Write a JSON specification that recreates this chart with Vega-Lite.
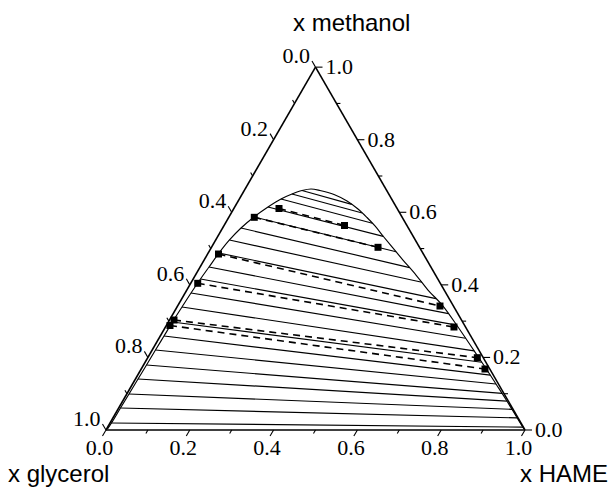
{
  "$schema": "https://vega.github.io/schema/vega-lite/v6.json",
  "width": 611,
  "height": 490,
  "autosize": {"type": "none"},
  "padding": 0,
  "background": "white",
  "config": {"view": {"stroke": null}},
  "datasets": {
    "tri": [
      {"X": 0, "Y": 0, "X2": 1, "Y2": 0},
      {"X": 1, "Y": 0, "X2": 0.5, "Y2": 0.866},
      {"X": 0.5, "Y": 0.866, "X2": 0, "Y2": 0}
    ],
    "tie": [
      {"X": 0.0119, "Y": 0.0167, "X2": 0.9948, "Y2": 0.0069},
      {"X": 0.0346, "Y": 0.0525, "X2": 0.9811, "Y2": 0.0289},
      {"X": 0.0549, "Y": 0.0859, "X2": 0.9690, "Y2": 0.0494},
      {"X": 0.0764, "Y": 0.1217, "X2": 0.9568, "Y2": 0.0690},
      {"X": 0.0967, "Y": 0.1551, "X2": 0.9453, "Y2": 0.0874},
      {"X": 0.1181, "Y": 0.1909, "X2": 0.9308, "Y2": 0.1098},
      {"X": 0.1384, "Y": 0.2243, "X2": 0.9172, "Y2": 0.1308},
      {"X": 0.1587, "Y": 0.2578, "X2": 0.8969, "Y2": 0.1618},
      {"X": 0.1814, "Y": 0.2936, "X2": 0.8788, "Y2": 0.1890},
      {"X": 0.2029, "Y": 0.3270, "X2": 0.8582, "Y2": 0.2189},
      {"X": 0.2255, "Y": 0.3604, "X2": 0.8368, "Y2": 0.2504},
      {"X": 0.2458, "Y": 0.3890, "X2": 0.8174, "Y2": 0.2776},
      {"X": 0.2697, "Y": 0.4224, "X2": 0.7876, "Y2": 0.3136},
      {"X": 0.2947, "Y": 0.4535, "X2": 0.7539, "Y2": 0.3527},
      {"X": 0.3222, "Y": 0.4821, "X2": 0.7246, "Y2": 0.3876},
      {"X": 0.3532, "Y": 0.5084, "X2": 0.6924, "Y2": 0.4253},
      {"X": 0.3866, "Y": 0.5322, "X2": 0.6618, "Y2": 0.4621},
      {"X": 0.4177, "Y": 0.5513, "X2": 0.6358, "Y2": 0.4933},
      {"X": 0.4439, "Y": 0.5632, "X2": 0.6115, "Y2": 0.5179},
      {"X": 0.4678, "Y": 0.5716, "X2": 0.5864, "Y2": 0.5384}
    ],
    "bin": [
      {"o": 1, "X": 0.0036, "Y": 0.0024},
      {"o": 2, "X": 0.0131, "Y": 0.0167},
      {"o": 3, "X": 0.0346, "Y": 0.0525},
      {"o": 4, "X": 0.0549, "Y": 0.0859},
      {"o": 5, "X": 0.0764, "Y": 0.1217},
      {"o": 6, "X": 0.0967, "Y": 0.1551},
      {"o": 7, "X": 0.1181, "Y": 0.1909},
      {"o": 8, "X": 0.1384, "Y": 0.2243},
      {"o": 9, "X": 0.1587, "Y": 0.2578},
      {"o": 10, "X": 0.1814, "Y": 0.2936},
      {"o": 11, "X": 0.2029, "Y": 0.3270},
      {"o": 12, "X": 0.2255, "Y": 0.3604},
      {"o": 13, "X": 0.2458, "Y": 0.3890},
      {"o": 14, "X": 0.2697, "Y": 0.4224},
      {"o": 15, "X": 0.2947, "Y": 0.4535},
      {"o": 16, "X": 0.3222, "Y": 0.4821},
      {"o": 17, "X": 0.3532, "Y": 0.5084},
      {"o": 18, "X": 0.3866, "Y": 0.5322},
      {"o": 19, "X": 0.4177, "Y": 0.5513},
      {"o": 20, "X": 0.4439, "Y": 0.5632},
      {"o": 21, "X": 0.4678, "Y": 0.5716},
      {"o": 22, "X": 0.4893, "Y": 0.5752},
      {"o": 23, "X": 0.5107, "Y": 0.5716},
      {"o": 24, "X": 0.5442, "Y": 0.5621},
      {"o": 25, "X": 0.5752, "Y": 0.5465},
      {"o": 26, "X": 0.6014, "Y": 0.5274},
      {"o": 27, "X": 0.6229, "Y": 0.5072},
      {"o": 28, "X": 0.6420, "Y": 0.4869},
      {"o": 29, "X": 0.6611, "Y": 0.4630},
      {"o": 30, "X": 0.6826, "Y": 0.4368},
      {"o": 31, "X": 0.7088, "Y": 0.4057},
      {"o": 32, "X": 0.7399, "Y": 0.3699},
      {"o": 33, "X": 0.7685, "Y": 0.3341},
      {"o": 34, "X": 0.8043, "Y": 0.2959},
      {"o": 35, "X": 0.8401, "Y": 0.2458},
      {"o": 36, "X": 0.8902, "Y": 0.1718},
      {"o": 37, "X": 0.9093, "Y": 0.1432},
      {"o": 38, "X": 0.9308, "Y": 0.1098},
      {"o": 39, "X": 0.9523, "Y": 0.0764},
      {"o": 40, "X": 0.9714, "Y": 0.0453},
      {"o": 41, "X": 0.9857, "Y": 0.0215},
      {"o": 42, "X": 0.9976, "Y": 0.0024}
    ],
    "exp": [
      {"X": 0.4129, "Y": 0.5286, "X2": 0.5692, "Y2": 0.4881},
      {"X": 0.3539, "Y": 0.5076, "X2": 0.6492, "Y2": 0.4360},
      {"X": 0.2685, "Y": 0.4200, "X2": 0.7971, "Y2": 0.2959},
      {"X": 0.2189, "Y": 0.3501, "X2": 0.8305, "Y2": 0.2458},
      {"X": 0.1623, "Y": 0.2625, "X2": 0.8862, "Y2": 0.1726},
      {"X": 0.1527, "Y": 0.2494, "X2": 0.9045, "Y2": 0.1456}
    ],
    "pts": [
      {"X": 0.4129, "Y": 0.5286}, {"X": 0.5692, "Y": 0.4881},
      {"X": 0.3539, "Y": 0.5076}, {"X": 0.6492, "Y": 0.4360},
      {"X": 0.2685, "Y": 0.4200}, {"X": 0.7971, "Y": 0.2959},
      {"X": 0.2189, "Y": 0.3501}, {"X": 0.8305, "Y": 0.2458},
      {"X": 0.1623, "Y": 0.2625}, {"X": 0.8862, "Y": 0.1726},
      {"X": 0.1527, "Y": 0.2494}, {"X": 0.9045, "Y": 0.1456}
    ],
    "ticks": [
      {"X": 0.0, "Y": 0, "X2": -0.0084, "Y2": -0.0145},
      {"X": 0.1, "Y": 0, "X2": 0.0952, "Y2": -0.0083},
      {"X": 0.2, "Y": 0, "X2": 0.1916, "Y2": -0.0145},
      {"X": 0.3, "Y": 0, "X2": 0.2952, "Y2": -0.0083},
      {"X": 0.4, "Y": 0, "X2": 0.3916, "Y2": -0.0145},
      {"X": 0.5, "Y": 0, "X2": 0.4952, "Y2": -0.0083},
      {"X": 0.6, "Y": 0, "X2": 0.5916, "Y2": -0.0145},
      {"X": 0.7, "Y": 0, "X2": 0.6952, "Y2": -0.0083},
      {"X": 0.8, "Y": 0, "X2": 0.7916, "Y2": -0.0145},
      {"X": 0.9, "Y": 0, "X2": 0.8952, "Y2": -0.0083},
      {"X": 1.0, "Y": 0, "X2": 0.9916, "Y2": -0.0145},
      {"X": 0.5, "Y": 0.866, "X2": 0.4916, "Y2": 0.8805},
      {"X": 0.45, "Y": 0.7794, "X2": 0.4452, "Y2": 0.7877},
      {"X": 0.4, "Y": 0.6928, "X2": 0.3916, "Y2": 0.7073},
      {"X": 0.35, "Y": 0.6062, "X2": 0.3452, "Y2": 0.6145},
      {"X": 0.3, "Y": 0.5196, "X2": 0.2916, "Y2": 0.5341},
      {"X": 0.25, "Y": 0.4330, "X2": 0.2452, "Y2": 0.4413},
      {"X": 0.2, "Y": 0.3464, "X2": 0.1916, "Y2": 0.3609},
      {"X": 0.15, "Y": 0.2598, "X2": 0.1452, "Y2": 0.2681},
      {"X": 0.1, "Y": 0.1732, "X2": 0.0916, "Y2": 0.1877},
      {"X": 0.05, "Y": 0.0866, "X2": 0.0452, "Y2": 0.0949},
      {"X": 0.0, "Y": 0.0, "X2": -0.0084, "Y2": 0.0145},
      {"X": 1.0, "Y": 0, "X2": 1.0167, "Y2": 0},
      {"X": 0.95, "Y": 0.0866, "X2": 0.9595, "Y2": 0.0866},
      {"X": 0.9, "Y": 0.1732, "X2": 0.9167, "Y2": 0.1732},
      {"X": 0.85, "Y": 0.2598, "X2": 0.8595, "Y2": 0.2598},
      {"X": 0.8, "Y": 0.3464, "X2": 0.8167, "Y2": 0.3464},
      {"X": 0.75, "Y": 0.4330, "X2": 0.7595, "Y2": 0.4330},
      {"X": 0.7, "Y": 0.5196, "X2": 0.7167, "Y2": 0.5196},
      {"X": 0.65, "Y": 0.6062, "X2": 0.6595, "Y2": 0.6062},
      {"X": 0.6, "Y": 0.6928, "X2": 0.6167, "Y2": 0.6928},
      {"X": 0.55, "Y": 0.7794, "X2": 0.5595, "Y2": 0.7794},
      {"X": 0.5, "Y": 0.866, "X2": 0.5167, "Y2": 0.866}
    ],
    "lblB": [
      {"X": -0.0084, "Y": -0.0145, "t": "0.0"},
      {"X": 0.1916, "Y": -0.0145, "t": "0.2"},
      {"X": 0.3916, "Y": -0.0145, "t": "0.4"},
      {"X": 0.5916, "Y": -0.0145, "t": "0.6"},
      {"X": 0.7916, "Y": -0.0145, "t": "0.8"},
      {"X": 0.9916, "Y": -0.0145, "t": "1.0"}
    ],
    "lblL": [
      {"X": 0.4916, "Y": 0.8805, "t": "0.0"},
      {"X": 0.3916, "Y": 0.7073, "t": "0.2"},
      {"X": 0.2916, "Y": 0.5341, "t": "0.4"},
      {"X": 0.1916, "Y": 0.3609, "t": "0.6"},
      {"X": 0.0916, "Y": 0.1877, "t": "0.8"},
      {"X": -0.0084, "Y": 0.0145, "t": "1.0"}
    ],
    "lblR": [
      {"X": 1.0167, "Y": 0, "t": "0.0"},
      {"X": 0.9167, "Y": 0.1732, "t": "0.2"},
      {"X": 0.8167, "Y": 0.3464, "t": "0.4"},
      {"X": 0.7167, "Y": 0.5196, "t": "0.6"},
      {"X": 0.6167, "Y": 0.6928, "t": "0.8"},
      {"X": 0.5167, "Y": 0.866, "t": "1.0"}
    ],
    "titlesL": [
      {"X": 0.4463, "Y": 0.9523, "t": "x methanol"},
      {"X": -0.2339, "Y": -0.1241, "t": "x glycerol"}
    ],
    "titlesR": [
      {"X": 1.1981, "Y": -0.1241, "t": "x HAME"}
    ]
  },
  "encoding": {
    "x": {"field": "X", "type": "quantitative", "scale": {"domain": [-0.25298, 1.20525], "nice": false, "zero": false}, "axis": null},
    "y": {"field": "Y", "type": "quantitative", "scale": {"domain": [-0.1432, 1.02625], "nice": false, "zero": false}, "axis": null}
  },
  "layer": [
    {"data": {"name": "tie"}, "mark": {"type": "rule", "color": "black", "strokeWidth": 1.15}, "encoding": {"x2": {"field": "X2"}, "y2": {"field": "Y2"}}},
    {"data": {"name": "bin"}, "mark": {"type": "line", "color": "black", "strokeWidth": 1.15, "interpolate": "catmull-rom"}, "encoding": {"order": {"field": "o", "type": "quantitative"}}},
    {"data": {"name": "exp"}, "mark": {"type": "rule", "color": "black", "strokeWidth": 1.6, "strokeDash": [7, 5]}, "encoding": {"x2": {"field": "X2"}, "y2": {"field": "Y2"}}},
    {"data": {"name": "tri"}, "mark": {"type": "rule", "color": "black", "strokeWidth": 1.6}, "encoding": {"x2": {"field": "X2"}, "y2": {"field": "Y2"}}},
    {"data": {"name": "ticks"}, "mark": {"type": "rule", "color": "black", "strokeWidth": 1.1}, "encoding": {"x2": {"field": "X2"}, "y2": {"field": "Y2"}}},
    {"data": {"name": "pts"}, "mark": {"type": "point", "shape": "square", "filled": true, "color": "black", "size": 49, "opacity": 1}},
    {"data": {"name": "lblB"}, "mark": {"type": "text", "font": "Liberation Serif", "fontSize": 22, "align": "center", "baseline": "top", "dx": -3, "dy": 2, "color": "black"}, "encoding": {"text": {"field": "t"}}},
    {"data": {"name": "lblL"}, "mark": {"type": "text", "font": "Liberation Serif", "fontSize": 22, "align": "right", "baseline": "alphabetic", "dx": -2, "dy": 2, "color": "black"}, "encoding": {"text": {"field": "t"}}},
    {"data": {"name": "lblR"}, "mark": {"type": "text", "font": "Liberation Serif", "fontSize": 22, "align": "left", "baseline": "middle", "dx": 3, "dy": 0, "color": "black"}, "encoding": {"text": {"field": "t"}}},
    {"data": {"name": "titlesL"}, "mark": {"type": "text", "font": "Liberation Sans", "fontSize": 24, "align": "left", "baseline": "alphabetic", "color": "black"}, "encoding": {"text": {"field": "t"}}},
    {"data": {"name": "titlesR"}, "mark": {"type": "text", "font": "Liberation Sans", "fontSize": 24, "align": "right", "baseline": "alphabetic", "color": "black"}, "encoding": {"text": {"field": "t"}}}
  ]
}
